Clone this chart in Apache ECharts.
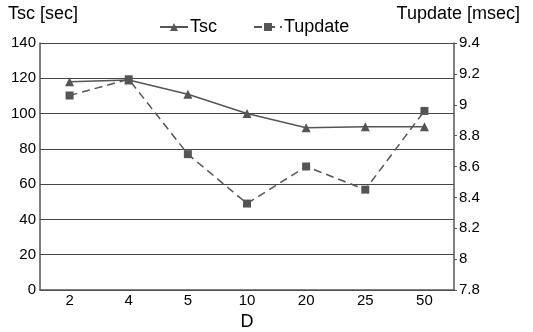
<!DOCTYPE html>
<html>
<head>
<meta charset="utf-8">
<script src="https://cdn.jsdelivr.net/npm/echarts@6/dist/echarts.min.js"></script>
<style>
html,body{margin:0;padding:0;background:#fff;}
#chart{width:533px;height:332px;}
</style>
</head>
<body>
<div id="chart"></div>
<script>
// categories (D) and the two series
var categories = ['2', '4', '5', '10', '20', '25', '50'];
var tsc = [118, 119, 111, 100, 92, 92.5, 92.5];          // sec, left axis
var tupdate = [9.06, 9.165, 8.68, 8.36, 8.6, 8.45, 8.96]; // msec, right axis

var myChart = echarts.init(document.getElementById('chart'));
var font = 'Liberation Sans, Arial, sans-serif';
var lineColor = '#555';

var option = {
    backgroundColor: '#fff',
    animation: false,
    textStyle: {fontFamily: font, color: '#000'},
    legend: {
        top: 13,
        left: 154,
        itemWidth: 28,
        itemHeight: 10,
        itemGap: 36,
        textStyle: {fontFamily: font, fontSize: 18, color: '#000', padding: [0, 0, 0, -3]},
        data: ['Tsc', 'Tupdate']
    },
    grid: {left: 40, right: 79, top: 43, bottom: 42, outerBoundsMode: 'none', containLabel: false},
    xAxis: {
        type: 'category',
        data: categories,
        boundaryGap: true,
        name: 'D',
        nameLocation: 'middle',
        nameGap: 14,
        nameTextStyle: {fontFamily: font, fontSize: 18, color: '#000'},
        axisLine: {lineStyle: {color: lineColor, width: 1.5}},
        axisTick: {inside: true, length: 3, lineStyle: {color: lineColor}},
        axisLabel: {fontFamily: font, fontSize: 15, color: '#000', margin: 3}
    },
    yAxis: [
        {
            type: 'value',
            min: 0, max: 140, interval: 20,
            name: 'Tsc [sec]',
            nameLocation: 'end',
            nameGap: 20,
            nameTextStyle: {fontFamily: font, fontSize: 18, color: '#000', align: 'left', padding: [0, 0, 0, -32]},
            axisLine: {show: true, lineStyle: {color: lineColor, width: 1.5}},
            axisTick: {show: false},
            axisLabel: {fontFamily: font, fontSize: 15, color: '#000', margin: 4},
            splitLine: {lineStyle: {color: '#444', width: 1}}
        },
        {
            type: 'value',
            min: 7.8, max: 9.4, interval: 0.2,
            name: 'Tupdate [msec]',
            nameLocation: 'end',
            nameGap: 20,
            nameTextStyle: {fontFamily: font, fontSize: 18, color: '#000', align: 'right', padding: [0, -66, 0, 0]},
            axisLine: {show: true, lineStyle: {color: lineColor, width: 1.5}},
            axisTick: {show: true, length: 3, lineStyle: {color: lineColor}},
            axisLabel: {fontFamily: font, fontSize: 15, color: '#000', margin: 5,
                formatter: function (v) { return String(Math.round(v * 10) / 10); }},
            splitLine: {show: false}
        }
    ],
    series: [
        {
            name: 'Tsc',
            type: 'line',
            yAxisIndex: 0,
            data: tsc,
            symbol: 'triangle',
            symbolSize: 9,
            itemStyle: {color: lineColor},
            lineStyle: {color: lineColor, width: 1.5}
        },
        {
            name: 'Tupdate',
            type: 'line',
            yAxisIndex: 1,
            data: tupdate,
            symbol: 'rect',
            symbolSize: 8,
            itemStyle: {color: lineColor},
            lineStyle: {color: lineColor, width: 1.5, type: [8, 5]}
        }
    ]
};

myChart.setOption(option);
</script>
</body>
</html>
